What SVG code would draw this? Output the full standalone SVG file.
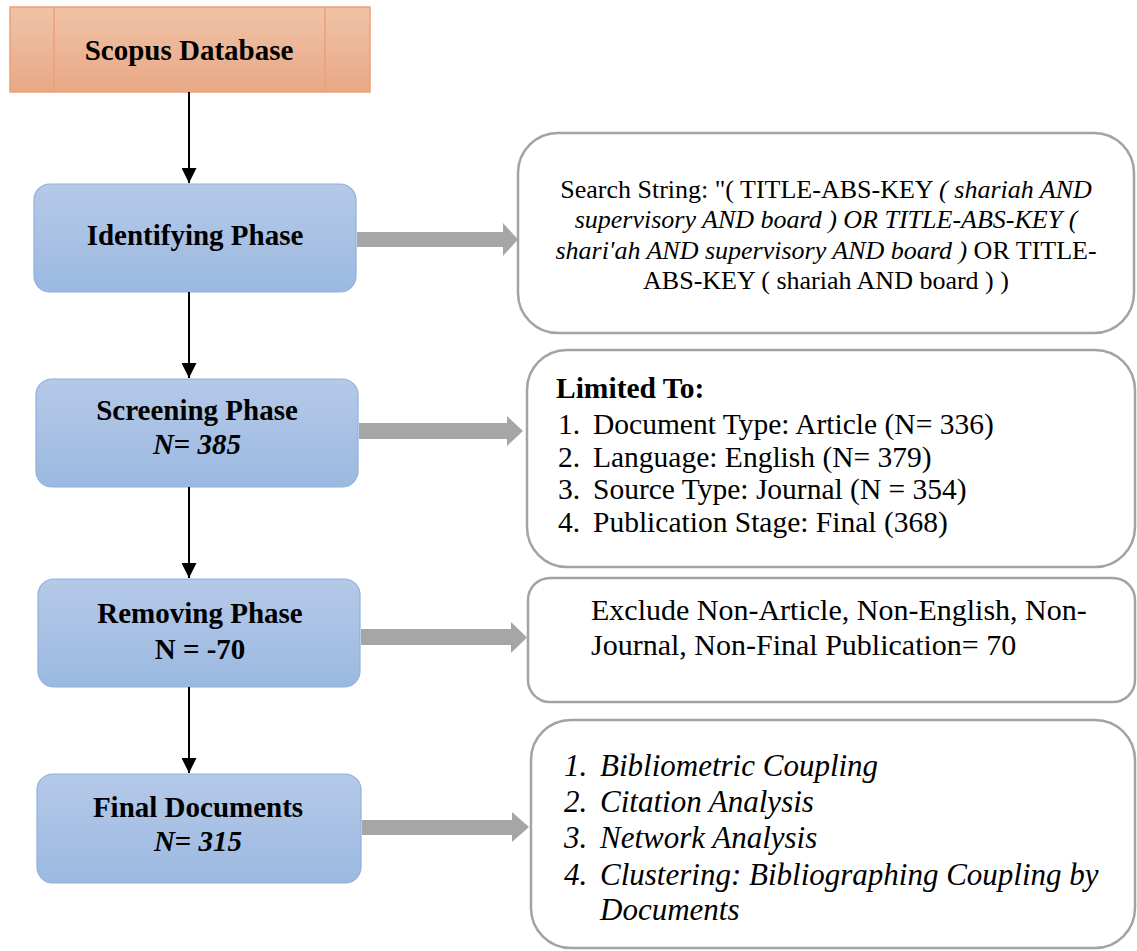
<svg xmlns="http://www.w3.org/2000/svg" width="1137" height="951" viewBox="0 0 1137 951">
<defs>
<linearGradient id="blue" x1="0" y1="0" x2="0" y2="1">
<stop offset="0" stop-color="#b5c9e8"/>
<stop offset="1" stop-color="#9bb9e0"/>
</linearGradient>
<linearGradient id="orange" x1="0" y1="0" x2="0" y2="1">
<stop offset="0" stop-color="#f0c3a7"/>
<stop offset="1" stop-color="#e8a886"/>
</linearGradient>
<marker id="ah" viewBox="0 0 10 10" refX="10" refY="5" markerWidth="7.5" markerHeight="7.5" orient="auto" markerUnits="strokeWidth">
<path d="M0,0 L10,5 L0,10 z" fill="#000"/>
</marker>
<style>
.phase{fill:url(#blue);stroke:#8fb0dc;stroke-width:1.2}
.info{fill:#fff;stroke:#a3a3a3;stroke-width:2.5}
.lbl{font-family:"Liberation Serif","Times New Roman",serif;font-weight:bold;font-size:29px;fill:#000;text-anchor:middle}
.txt{font-family:"Liberation Serif","Times New Roman",serif;fill:#000}
.it{font-style:italic}
.conn{stroke:#000;stroke-width:2;fill:none}
.block{fill:#a6a6a6}
</style>
</defs>

<g id="scopus">
<rect x="10" y="7" width="360" height="85" fill="url(#orange)" stroke="#eaa077" stroke-width="1.5"/>
<line x1="54" y1="7" x2="54" y2="92" stroke="#eaa077" stroke-width="1.5"/>
<line x1="325" y1="7" x2="325" y2="92" stroke="#eaa077" stroke-width="1.5"/>
<text class="lbl" x="189" y="60">Scopus Database</text>
</g>

<g id="identifying">
<rect class="phase" x="34" y="184" width="322" height="108" rx="16"/>
<text class="lbl" x="195" y="245">Identifying Phase</text>
</g>

<g id="screening">
<rect class="phase" x="36" y="379" width="322" height="108" rx="16"/>
<text class="lbl" x="197" y="420" font-size="29.5">Screening Phase</text>
<text class="lbl" x="197" y="454" font-size="29.5"><tspan class="it">N</tspan>= <tspan class="it">385</tspan></text>
</g>

<g id="removing">
<rect class="phase" x="38" y="579" width="322" height="108" rx="16"/>
<text class="lbl" x="200" y="623">Removing Phase</text>
<text class="lbl" x="200" y="659">N = -70</text>
</g>

<g id="final">
<rect class="phase" x="37" y="774" width="324" height="109" rx="16"/>
<text class="lbl" x="198" y="817">Final Documents</text>
<text class="lbl" x="198" y="851"><tspan class="it">N</tspan>= <tspan class="it">315</tspan></text>
</g>

<g id="search">
<rect class="info" x="518" y="133" width="616" height="200" rx="40"/>
<g class="txt" font-size="26" text-anchor="middle">
<text x="826" y="198">Search String: "( TITLE-ABS-KEY <tspan class="it">( shariah AND</tspan></text>
<text x="826" y="228" class="it">supervisory AND board ) OR TITLE-ABS-KEY (</text>
<text x="826" y="259"><tspan class="it">shari'ah AND supervisory AND board )</tspan> OR TITLE-</text>
<text x="826" y="289">ABS-KEY ( shariah AND board ) )</text>
</g>
</g>

<g id="limited">
<rect class="info" x="527" y="350" width="608" height="217" rx="40"/>
<g class="txt" font-size="29.5">
<text x="556" y="398" font-weight="bold">Limited To:</text>
<text x="558" y="434">1.</text><text x="593" y="434">Document Type: Article (N= 336)</text>
<text x="558" y="467">2.</text><text x="593" y="467">Language: English (N= 379)</text>
<text x="558" y="499">3.</text><text x="593" y="499">Source Type: Journal (N = 354)</text>
<text x="558" y="532">4.</text><text x="593" y="532">Publication Stage: Final (368)</text>
</g>
</g>

<g id="exclude">
<rect class="info" x="528" y="578" width="607" height="124" rx="22"/>
<g class="txt" font-size="30">
<text x="591" y="620">Exclude Non-Article, Non-English, Non-</text>
<text x="591" y="655">Journal, Non-Final Publication= 70</text>
</g>
</g>

<g id="analysis">
<rect class="info" x="531" y="720" width="604" height="228" rx="40"/>
<g class="txt it" font-size="31">
<text x="564" y="776">1.</text><text x="600" y="776">Bibliometric Coupling</text>
<text x="564" y="812">2.</text><text x="600" y="812">Citation Analysis</text>
<text x="564" y="848">3.</text><text x="600" y="848">Network Analysis</text>
<text x="564" y="885">4.</text><text x="600" y="885">Clustering: Bibliographing Coupling by</text>
<text x="600" y="920">Documents</text>
</g>
</g>

<g id="connectors">
<line class="conn" x1="189" y1="92" x2="189" y2="183" marker-end="url(#ah)"/>
<line class="conn" x1="189" y1="292" x2="189" y2="378" marker-end="url(#ah)"/>
<line class="conn" x1="189" y1="487" x2="189" y2="578" marker-end="url(#ah)"/>
<line class="conn" x1="189" y1="687" x2="189" y2="773" marker-end="url(#ah)"/>
<polygon class="block" points="357,232 503,232 503,223 518,239.5 503,256 503,247 357,247"/>
<polygon class="block" points="359,423 507,423 507,416 523,431 507,446 507,439 359,439"/>
<polygon class="block" points="361,629 511,629 511,622 527,637.5 511,653 511,645 361,645"/>
<polygon class="block" points="362,820 512,820 512,812 529,827 512,842 512,835 362,835"/>
</g>
</svg>
